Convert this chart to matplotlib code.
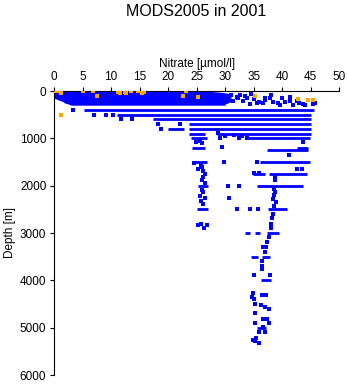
import numpy as np
import matplotlib
matplotlib.use("Agg")
import matplotlib.pyplot as plt

plt.rcParams['font.family'] = ['Liberation Sans', 'DejaVu Sans']

# surface blob outline: depth with left/right nitrate extents
blob_depth = [-20, 15, 30, 50, 75, 100, 125, 150, 175, 200, 225, 250, 275, 300]
blob_left = [0, 0, 0, 0, 0, 0, 0, 0, 0.5, 1.0, 1.6, 1.8, 2.5, 3.0]
blob_right = [25.5, 28, 29.5, 30.5, 31, 31, 31, 31, 31, 31, 31, 30.5, 30, 30]

# dense standard-depth rows (depth, from, to)
seg_depth = [400, 500, 600, 700, 800, 800, 900, 900, 1000, 1000,
             1200, 1200, 1250, 1500, 1500, 1750, 1750, 2000, 2000,
             2500, 2500, 3000, 3000, 3000, 3500, 3500, 4000, 5000]
seg_from = [5.3, 11.0, 17.4, 23.7, 20.0, 23.7, 23.7, 28.5, 24.0, 34.0,
            24.2, 42.5, 37.3, 24.4, 36.1, 34.9, 37.6, 25.3, 35.5,
            25.0, 37.5, 33.5, 35.2, 37.3, 34.5, 36.5, 36.3, 35.6]
seg_to = [45.5, 45.0, 45.1, 45.0, 22.7, 45.0, 26.5, 45.0, 26.8, 44.8,
          26.5, 44.6, 44.6, 26.8, 44.9, 37.0, 44.3, 27.0, 43.7,
          27.0, 40.8, 34.3, 36.1, 39.4, 35.8, 37.9, 38.1, 37.2]

# single blue samples
blue_x = [31.1, 32.6, 32.3, 33.8, 36.9, 37.8, 38.4, 39.3, 39.9, 41.4, 41.4,
          43.7, 45.7, 45.4, 36.6, 35.5, 34.3, 39.6, 41.9, 33.2, 31.4,
          32.0, 34.5, 36.0, 37.0, 40.5, 42.5, 44.0, 33.5, 35.0, 38.0, 43.0,
          3.4, 7.0, 9.1, 10.3, 11.7, 13.7, 18.2, 22.1, 18.8,
          28.7, 29.1, 29.5, 32.4, 33.8, 30.0, 31.5, 33.0, 25.5, 26.0, 24.8,
          29.4, 29.8, 35.6, 24.6, 25.8, 26.0, 25.2, 26.2, 26.4, 26.2, 26.0,
          26.4, 30.5, 32.5, 26.0, 26.2, 25.6, 26.4, 25.8, 26.1, 30.7, 32.0,
          34.4, 35.7, 25.3, 25.8, 26.3, 26.8, 35.0, 35.9,
          43.7, 41.2, 42.6, 43.4, 38.7, 38.7, 38.6, 38.8, 38.5, 38.4, 38.9,
          38.5, 38.3, 38.2, 38.1, 38.0, 37.7, 37.4, 36.7, 37.2, 36.9, 36.5,
          36.4, 36.4, 35.0, 37.9, 34.9, 36.4, 37.2, 34.7, 35.0, 35.2, 36.3,
          36.9, 37.6, 35.3, 36.7, 37.4, 35.2, 37.6, 36.6, 36.0, 36.9, 35.4,
          35.2, 35.2, 35.9, 34.8]
blue_depth = [85, 85, 155, 155, 155, 155, 225, 245, 140, 135, 205,
              280, 245, 280, 260, 245, 275, 295, 295, 205, 205,
              120, 60, 230, 190, 240, 220, 300, 110, 170, 90, 250,
              400, 500, 500, 500, 600, 600, 700, 700, 800,
              890, 1000, 1190, 1000, 1000, 950, 930, 960, 1050, 1100, 1080,
              1180, 1500, 1500, 1530, 1560, 1610, 1650, 1700, 1760, 1810, 1870,
              1940, 2000, 2000, 2090, 2140, 2210, 2270, 2320, 2380, 2250, 2500,
              2500, 2500, 2830, 2810, 2900, 2840, 1740, 1740,
              1070, 1350, 1640, 1640, 1810, 1880, 2070, 2130, 2200, 2280, 2350,
              2420, 2600, 2690, 2800, 2900, 3090, 3200, 3300, 3300, 3400, 3590,
              3700, 3760, 3890, 3890, 4260, 4300, 4300, 4360, 4400, 4490, 4520,
              4570, 4600, 4700, 4820, 4810, 4910, 4910, 4980, 5100, 5100, 5210,
              5250, 5280, 5320, 5260]

# flagged (orange) samples
orange_x = [0.2, 0.7, 1.3, 1.2, 5.0, 6.8, 7.5, 11.3, 11.5, 12.5, 13.5, 12.7,
            14.8, 15.8, 15.5, 22.6, 23.1, 25.3, 35.2, 42.8, 44.5, 45.4, 1.3]
orange_depth = [10, 10, 0, 50, 10, 10, 100, 20, 50, 20, 10, 50,
                10, 20, 50, 100, 10, 120, 110, 160, 190, 190, 500]

fig = plt.figure(figsize=(3.48, 3.84), dpi=100)
ax = fig.add_axes([54 / 348, 9 / 384, 285.3 / 348, 284 / 384])

blue = '#0000ff'
orange = '#ffa500'

ax.fill_betweenx(blob_depth, blob_left, blob_right, color=blue, lw=0)
ax.hlines(seg_depth, seg_from, seg_to, colors=blue, lw=2)
ax.scatter(blue_x, blue_depth, s=7, marker='s', c=blue, linewidths=0)
ax.scatter(orange_x, orange_depth, s=7, marker='s', c=orange, linewidths=0, zorder=3)

ax.set_xlim(0, 50)
ax.set_ylim(6000, 0)
ax.set_xticks(np.arange(0, 51, 5))
ax.set_yticks(np.arange(0, 6001, 1000))
ax.xaxis.tick_top()
ax.xaxis.set_label_position('top')
ax.tick_params(axis='both', direction='out', length=3, width=0.8, labelsize=8.5, pad=2.5)
for s in ['right', 'bottom']:
    ax.spines[s].set_visible(False)
for s in ['top', 'left']:
    ax.spines[s].set_linewidth(0.8)
ax.set_xlabel('Nitrate [\u00b5mol/l]', fontsize=8.5, labelpad=3)
ax.set_ylabel('Depth [m]', fontsize=8.5, labelpad=3)

fig.text(196.5 / 348, 1 - 12 / 384, 'MODS2005 in 2001', fontsize=11.5,
         ha='center', va='center')

fig.savefig('out.png', dpi=100)
